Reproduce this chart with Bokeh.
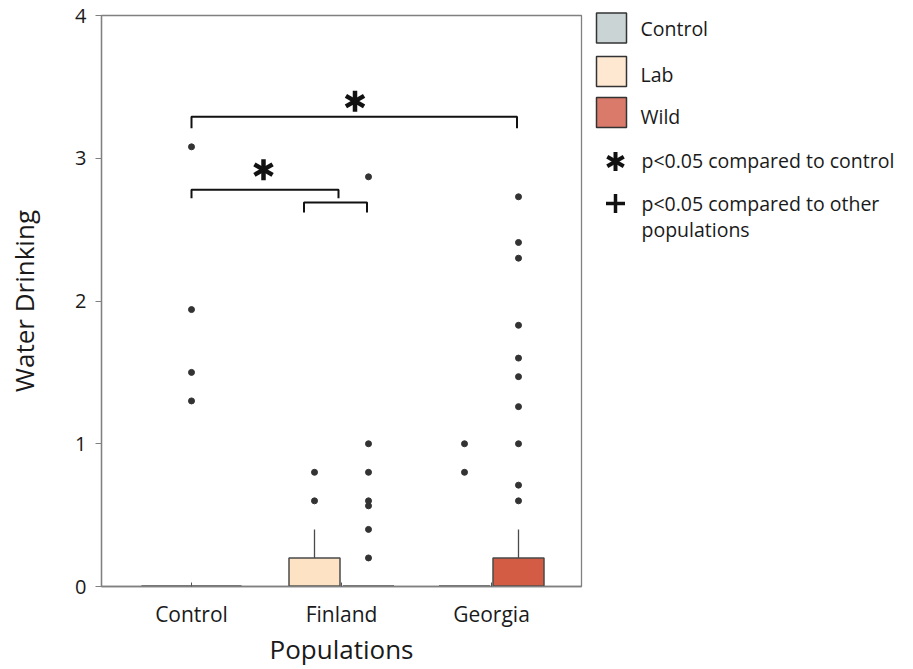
from bokeh.plotting import figure
from bokeh.layouts import row
from bokeh.models import Range1d, FixedTicker, ColumnDataSource
from bokeh.embed import file_html
from bokeh.resources import INLINE
from bokeh.core.properties import value

# ---------------- data ----------------
populations = ["Control", "Finland", "Georgia"]
series_names = ["Control", "Lab", "Wild"]
series_colors = ["#C9D3D3", "#FDE3C4", "#D35D44"]
legend_colors = ["#CAD4D4", "#FEE8D2", "#DA7A6B"]

box_population = ["Control", "Finland", "Finland", "Georgia", "Georgia"]
box_series = ["Control", "Lab", "Wild", "Lab", "Wild"]
box_q1 = [0.0, 0.0, 0.0, 0.0, 0.0]
box_median = [0.0, 0.0, 0.0, 0.0, 0.0]
box_q3 = [0.0, 0.2, 0.0, 0.0, 0.2]
box_whisker_high = [0.0, 0.4, 0.0, 0.0, 0.4]
box_outliers = [
    [3.08, 1.94, 1.50, 1.30],
    [0.80, 0.60],
    [2.87, 1.00, 0.80, 0.60, 0.565, 0.40, 0.20],
    [1.00, 0.80],
    [2.73, 2.41, 2.30, 1.83, 1.60, 1.47, 1.26, 1.00, 0.71, 0.60],
]

# significance brackets (x in category units, Control = 0)
bracket_x0 = [0.0, 0.0, 0.75]
bracket_x1 = [2.17, 0.98, 1.17]
bracket_y = [3.29, 2.78, 2.69]
bracket_end = [3.21, 2.72, 2.62]
star_x = [1.09, 0.48]
star_y = [3.40, 2.92]

legend_notes = ["p<0.05 compared to control", "p<0.05 compared to other", "populations"]

# ---------------- layout constants ----------------
series_offset = {"Control": 0.0, "Lab": -0.18, "Wild": 0.18}
series_width = {"Control": 0.667, "Lab": 0.34, "Wild": 0.34}
FONT = "Open Sans"
TXT = "#1a1a1a"
EDGE = "#4a4a4a"
FRAME_TOP, FRAME_BOTTOM = 15, 588

p = figure(width=590, height=669, x_range=Range1d(-0.6, 2.6), y_range=Range1d(0, 4),
           output_backend="svg", toolbar_location=None,
           min_border_left=101, min_border_right=9, min_border_top=FRAME_TOP,
           min_border_bottom=669 - FRAME_BOTTOM)
p.background_fill_color = "white"
p.border_fill_color = "white"
p.outline_line_color = "#808080"
p.outline_line_width = 1.3
p.xgrid.visible = False
p.ygrid.visible = False

# boxes
bx = [populations.index(pop) + series_offset[s] for pop, s in zip(box_population, box_series)]
bw = [series_width[s] for s in box_series]
bc = [series_colors[series_names.index(s)] for s in box_series]
src = ColumnDataSource(dict(x=bx, w=bw, q1=box_q1, q3=box_q3, med=box_median,
                            hi=box_whisker_high, c=bc))
p.segment(x0="x", y0="q3", x1="x", y1="hi", source=src, line_color=EDGE, line_width=1.3)
p.vbar(x="x", width="w", bottom="q1", top="q3", source=src, fill_color="c",
       line_color=EDGE, line_width=1.5)
p.segment(x0=[x - w / 2 for x, w in zip(bx, bw)], y0=box_median,
          x1=[x + w / 2 for x, w in zip(bx, bw)], y1=box_median,
          line_color="#333333", line_width=2)

# outliers
ox, oy = [], []
for x, outs in zip(bx, box_outliers):
    for v in outs:
        ox.append(x)
        oy.append(v)
p.scatter(ox, oy, size=6, fill_color="#333333", line_color="#333333")

# brackets
xs = [[a, a, b, b] for a, b in zip(bracket_x0, bracket_x1)]
ys = [[e, y, y, e] for y, e in zip(bracket_y, bracket_end)]
p.multi_line(xs, ys, line_color="#111111", line_width=2)

# asterisks (6-armed)
for ang in [90, 30, -30]:
    p.scatter(star_x, star_y, marker="dash", size=21, angle=ang, angle_units="deg",
              line_color="#111111", line_width=4.5)

# axes
p.xaxis.ticker = FixedTicker(ticks=[0, 1, 2])
p.xaxis.major_label_overrides = {i: name for i, name in enumerate(populations)}
p.xaxis.major_tick_in = 4
p.xaxis.major_tick_out = 0
p.xaxis.minor_tick_line_color = None
p.xaxis.axis_line_color = "#808080"
p.xaxis.axis_line_width = 1.3
p.xaxis.major_tick_line_color = "#555555"
p.xaxis.major_label_text_font = FONT
p.xaxis.major_label_text_font_size = "21px"
p.xaxis.major_label_text_color = TXT
p.xaxis.major_label_standoff = 13
p.xaxis.axis_label = "Populations"
p.xaxis.axis_label_text_font = FONT
p.xaxis.axis_label_text_font_size = "26px"
p.xaxis.axis_label_text_font_style = "normal"
p.xaxis.axis_label_text_color = TXT
p.xaxis.axis_label_standoff = 0

p.yaxis.ticker = FixedTicker(ticks=[0, 1, 2, 3, 4])
p.yaxis.minor_tick_line_color = None
p.yaxis.major_tick_in = 0
p.yaxis.major_tick_out = 6
p.yaxis.axis_line_color = "#808080"
p.yaxis.axis_line_width = 1.3
p.yaxis.major_tick_line_color = "#808080"
p.yaxis.major_label_text_font = FONT
p.yaxis.major_label_text_font_size = "20px"
p.yaxis.major_label_text_color = TXT
p.yaxis.major_label_standoff = 9
p.yaxis.axis_label = "Water Drinking"
p.yaxis.axis_label_text_font = FONT
p.yaxis.axis_label_text_font_size = "26px"
p.yaxis.axis_label_text_font_style = "normal"
p.yaxis.axis_label_text_color = TXT
p.yaxis.axis_label_standoff = 30

# ---------------- legend panel ----------------
lg = figure(width=323, height=669, x_range=Range1d(0, 323), y_range=Range1d(669, 0),
            output_backend="svg", toolbar_location=None, min_border=0)
try:
    lg.frame_align = False
except Exception:
    pass
lg.axis.visible = False
lg.xgrid.visible = False
lg.ygrid.visible = False
lg.outline_line_color = None
lg.background_fill_color = "white"
lg.border_fill_color = "white"

sw_y = [27.5, 71, 112]
label_y = [28, 74, 116]
lg.rect(x=[21] * len(series_names), y=sw_y, width=30, height=30,
        fill_color=legend_colors, line_color="#333333", line_width=1.5)
lg.text(x=[50] * len(series_names), y=label_y, text=series_names,
        text_font=value(FONT), text_font_size="19.5px", text_color=TXT,
        text_baseline="middle", text_align="left")

note_y = [160, 203, 229]
for ang in [90, 30, -30]:
    lg.scatter([25], [note_y[0] + 1], marker="dash", size=19, angle=ang, angle_units="deg",
               line_color="#111111", line_width=4)
lg.scatter([25], [note_y[1]], marker="cross", size=19, line_color="#111111", line_width=3.5)
lg.text(x=[51] * len(legend_notes), y=note_y, text=legend_notes,
        text_font=value(FONT), text_font_size="19.5px", text_color=TXT,
        text_baseline="middle", text_align="left")

layout = row(p, lg, spacing=0)
open("out.html", "w").write(file_html(layout, INLINE))
